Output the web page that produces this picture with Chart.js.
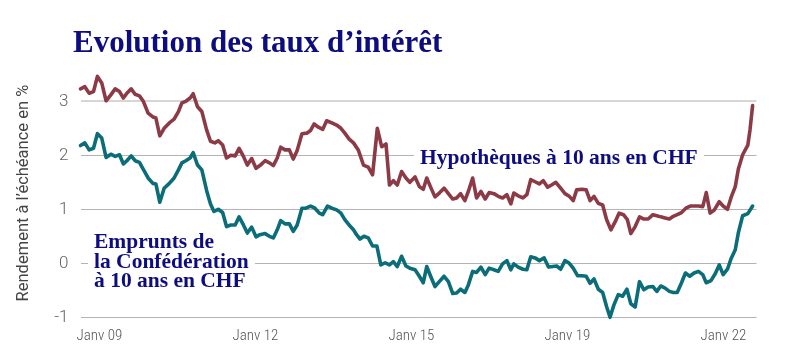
<!DOCTYPE html>
<html>
<head>
<meta charset="utf-8">
<script src="https://cdn.jsdelivr.net/npm/chart.js@4/dist/chart.umd.min.js"></script>
<style>
  html, body { margin: 0; padding: 0; background: #fff; }
  #wrap { position: relative; width: 800px; height: 361px; overflow: hidden; background: #fff; }
  #chart { position: absolute; left: 0; top: 0; }
  .title { position: absolute; left: 73px; top: 23.5px; font-family: "Liberation Serif", serif; font-weight: bold; font-size: 31px; line-height: 36px; color: #0d0d80; white-space: nowrap; }
  .lbl { position: absolute; font-family: "Liberation Serif", serif; font-weight: bold; font-size: 21.5px; color: #0d0d80; white-space: nowrap; }
  .lbl div { width: fit-content; background: #fff; padding: 0 6px; line-height: 19.2px; }
</style>
</head>
<body>
<div id="wrap">
  <canvas id="chart" width="800" height="361"></canvas>
  <div class="title" id="title"></div>
  <div class="lbl" id="lblMortgage" style="left:414px; top:145.7px;"></div>
  <div class="lbl" id="lblBond" style="left:88px; top:232.4px;"></div>
</div>
<script>
// ---- Data ----
const chartTitle = "Evolution des taux d’intérêt";
const yAxisTitle = "Rendement à l’échéance en %";
const seriesNames = ["Hypothèques à 10 ans en CHF", "Emprunts de|la Confédération|à 10 ans en CHF"];

// x = months since the first observation (Janv 09)
const tickMonths = [0, 36, 72, 108, 144];
const tickLabels = ["Janv 09", "Janv 12", "Janv 15", "Janv 19", "Janv 22"];
const yTicks = [-1, 0, 1, 2, 3];

const mortgageMonths = [0.0,1.0,2.0,3.0,3.9,4.9,5.9,7.0,8.0,9.0,9.9,10.7,11.7,12.6,13.6,14.5,15.6,16.7,17.4,18.3,19.3,20.5,21.6,22.6,23.4,24.3,25.3,26.0,27.0,28.0,29.1,30.0,31.0,31.8,32.8,33.7,34.7,35.7,36.6,37.6,38.5,39.5,40.5,41.4,42.6,43.6,44.5,45.4,46.2,47.2,48.2,49.1,50.0,51.1,52.2,53.1,53.9,54.9,55.9,56.8,58.0,59.1,60.1,61.0,62.0,63.0,64.1,65.3,66.4,67.4,68.5,69.5,70.5,71.3,72.2,73.1,74.1,75.1,76.0,77.2,78.2,79.1,79.9,80.8,81.8,82.8,83.9,84.9,85.9,86.8,87.7,88.7,89.5,90.5,91.4,92.4,93.4,94.3,95.4,96.4,97.4,98.4,99.3,100.0,101.0,102.1,103.0,103.9,104.9,105.9,106.8,107.8,108.7,109.7,110.8,111.8,112.8,113.7,114.5,115.7,116.7,117.6,118.5,119.5,120.5,121.4,122.4,123.4,124.3,125.3,126.2,127.0,128.0,129.0,130.0,131.0,132.1,133.0,133.9,134.9,135.9,136.8,137.7,138.7,139.7,140.7,141.6,142.6,143.6,144.4,145.3,146.2,147.4,148.3,149.3,150.1,151.1,151.8,152.8,154.0,154.5,155.1];
const mortgageRates = [3.23,3.27,3.15,3.18,3.46,3.34,3.01,3.12,3.23,3.18,3.06,3.15,3.23,3.13,3.10,3.00,2.78,2.71,2.69,2.36,2.50,2.60,2.67,2.81,2.97,3.00,3.06,3.14,2.90,2.81,2.47,2.26,2.23,2.27,2.19,1.95,2.00,1.99,2.13,1.98,1.82,1.94,1.76,1.81,1.90,1.86,1.81,1.95,2.15,2.10,2.10,1.93,2.09,2.40,2.41,2.46,2.58,2.52,2.48,2.64,2.60,2.56,2.50,2.41,2.30,2.23,2.10,1.82,1.78,1.64,2.50,2.16,2.21,1.45,1.53,1.45,1.70,1.58,1.50,1.60,1.42,1.37,1.58,1.41,1.23,1.30,1.39,1.29,1.19,1.21,1.29,1.16,1.33,1.58,1.21,1.33,1.19,1.31,1.29,1.24,1.21,1.27,1.10,1.30,1.25,1.21,1.27,1.55,1.51,1.47,1.53,1.41,1.45,1.50,1.39,1.29,1.24,1.16,1.36,1.37,1.36,1.16,1.24,1.11,1.08,0.81,0.62,0.77,0.93,0.90,0.81,0.55,0.68,0.86,0.82,0.82,0.90,0.88,0.86,0.84,0.82,0.87,0.90,0.94,1.02,1.06,1.06,1.06,1.05,1.31,0.93,0.98,1.14,1.06,1.00,1.21,1.42,1.74,2.01,2.19,2.47,2.92];

const bondMonths = [0.0,1.0,2.0,3.0,3.9,4.9,5.9,7.0,8.0,9.0,9.9,10.7,11.7,12.6,13.6,14.5,15.6,16.7,17.4,18.3,19.3,20.5,21.6,22.6,23.4,24.3,25.3,26.0,27.0,28.0,29.1,30.0,30.8,31.8,32.8,33.7,34.7,35.7,36.6,37.6,38.5,39.5,40.5,41.4,42.6,43.6,44.5,45.4,46.2,47.2,48.2,49.1,50.0,51.1,52.0,53.1,54.1,55.1,55.9,57.0,58.0,59.1,60.1,61.0,62.2,63.0,63.7,64.5,65.4,66.4,67.4,68.4,69.3,70.3,71.3,72.2,73.1,74.1,75.1,76.0,77.2,78.2,79.1,79.9,80.8,81.8,82.8,83.9,84.9,85.9,86.8,87.7,88.7,89.5,90.5,91.4,92.4,93.4,94.3,95.4,96.4,97.4,98.4,99.3,100.0,101.0,102.1,103.0,103.9,104.9,105.9,107.0,108.0,109.0,109.9,110.8,111.8,112.8,113.7,114.7,115.7,116.7,117.6,118.5,119.5,120.5,121.4,122.2,123.1,124.1,125.1,126.1,127.0,128.0,129.0,130.0,131.0,132.1,133.0,133.9,134.9,135.9,136.8,137.7,138.7,139.6,140.6,141.6,142.6,143.6,144.4,145.5,146.5,147.4,148.3,149.3,150.1,151.1,151.8,152.8,154.0,155.1];
const bondYields = [2.18,2.23,2.10,2.13,2.40,2.32,1.96,2.02,1.98,2.01,1.84,1.90,1.99,1.90,1.87,1.74,1.58,1.48,1.47,1.13,1.39,1.48,1.58,1.73,1.86,1.90,1.95,2.05,1.82,1.73,1.35,1.10,0.96,1.00,0.94,0.68,0.71,0.71,0.86,0.71,0.56,0.67,0.49,0.53,0.55,0.50,0.47,0.62,0.79,0.73,0.73,0.59,0.71,1.02,1.02,1.06,1.02,0.93,0.90,1.06,1.02,0.99,0.93,0.81,0.69,0.62,0.53,0.45,0.50,0.47,0.32,0.32,-0.03,0.01,-0.03,0.03,-0.06,0.13,-0.05,-0.09,-0.12,-0.24,-0.36,-0.06,-0.24,-0.43,-0.34,-0.24,-0.34,-0.56,-0.55,-0.48,-0.54,-0.40,-0.15,-0.17,-0.07,-0.21,-0.09,-0.12,-0.15,-0.01,0.05,-0.12,-0.01,-0.07,-0.11,-0.12,0.12,0.10,0.05,0.10,-0.07,-0.06,-0.05,-0.11,0.05,0.00,-0.09,-0.23,-0.23,-0.24,-0.37,-0.29,-0.48,-0.54,-0.80,-1.00,-0.77,-0.58,-0.61,-0.48,-0.75,-0.81,-0.34,-0.49,-0.44,-0.43,-0.52,-0.42,-0.46,-0.52,-0.54,-0.54,-0.36,-0.18,-0.24,-0.18,-0.15,-0.21,-0.36,-0.32,-0.19,-0.03,-0.21,-0.11,0.08,0.25,0.56,0.88,0.92,1.06];

// ---- Text overlays ----
document.getElementById('title').textContent = chartTitle;
{
  const d = document.createElement('div'); d.textContent = seriesNames[0];
  d.style.lineHeight = '22px';
  document.getElementById('lblMortgage').appendChild(d);
  seriesNames[1].split('|').forEach(t => {
    const e = document.createElement('div'); e.textContent = t;
    document.getElementById('lblBond').appendChild(e);
  });
}

const toPts = (xs, ys) => xs.map((x, i) => ({ x: x, y: ys[i] }));

new Chart(document.getElementById('chart'), {
  type: 'line',
  data: {
    datasets: [
      { label: seriesNames[0], data: toPts(mortgageMonths, mortgageRates), borderColor: '#8c3a46', borderWidth: 3.6, pointRadius: 0, tension: 0, borderJoinStyle: 'round', borderCapStyle: 'round', clip: false, fill: false },
      { label: seriesNames[1].replace(/\|/g, ' '), data: toPts(bondMonths, bondYields), borderColor: '#0b6d78', borderWidth: 3.6, pointRadius: 0, tension: 0, borderJoinStyle: 'round', borderCapStyle: 'round', clip: false, fill: false }
    ]
  },
  options: {
    responsive: false,
    devicePixelRatio: 1,
    animation: false,
    events: [],
    layout: { padding: { left: 0, right: 43.5, top: 68.9, bottom: 0 } },
    plugins: { legend: { display: false }, tooltip: { enabled: false }, title: { display: false } },
    scales: {
      x: {
        type: 'linear', min: 0, max: 156,
        afterBuildTicks: ax => { ax.ticks = tickMonths.map(v => ({ value: v })); },
        afterFit: ax => { ax.height = 43.7; },
        grid: { display: false, drawTicks: false },
        border: { display: false },
        ticks: {
          autoSkip: false, maxRotation: 0, align: 'start', padding: 10, labelOffset: -4,
          color: '#555', font: { family: '"Liberation Sans Narrow", "Roboto Condensed", Roboto, sans-serif', size: 15, weight: '300' },
          callback: v => tickLabels[tickMonths.indexOf(v)]
        }
      },
      y: {
        min: -1, max: 3.6,
        afterBuildTicks: ax => { ax.ticks = yTicks.map(v => ({ value: v })); },
        afterFit: ax => { ax.width = 80.5; },
        grid: {
          drawTicks: false,
          color: c => (c.tick && c.tick.value === 3) ? '#d6d6d6' : '#b4b4b4',
          lineWidth: c => (c.tick && c.tick.value === 3) ? 2 : 1
        },
        border: { display: false },
        ticks: { padding: 12, color: '#666', font: { family: 'Roboto, sans-serif', size: 17, weight: '300' }, callback: v => String(v) },
        title: { display: true, text: yAxisTitle, color: '#444', font: { family: 'Roboto, sans-serif', size: 16.5 }, padding: { top: 14, bottom: 0 } }
      }
    }
  }
});
</script>
</body>
</html>
